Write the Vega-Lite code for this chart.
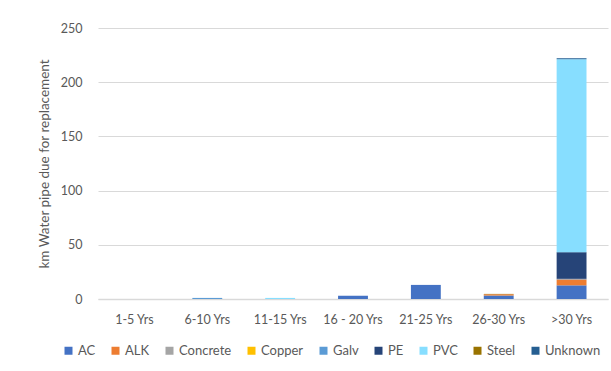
{
  "$schema": "https://vega.github.io/schema/vega-lite/v6.json",
  "autosize": {"type": "none"},
  "width": 510,
  "height": 271,
  "padding": {"left": 98, "top": 28, "right": 3, "bottom": 72},
  "background": "#ffffff",
  "config": {
    "view": {"stroke": null},
    "font": "Lato",
    "axis": {
      "labelFont": "Lato",
      "titleFont": "Lato",
      "labelColor": "#595959",
      "titleColor": "#595959",
      "labelFontSize": 12.5,
      "titleFontSize": 13.5,
      "titleFontWeight": "normal"
    },
    "legend": {
      "labelFont": "Lato",
      "labelColor": "#595959",
      "labelFontSize": 13
    }
  },
  "data": {
    "values": [
      {"age": "6-10 Yrs", "material": "Galv", "km": 1.0},
      {"age": "11-15 Yrs", "material": "PVC", "km": 1.0},
      {"age": "16 - 20 Yrs", "material": "AC", "km": 3.0},
      {"age": "21-25 Yrs", "material": "AC", "km": 13.0},
      {"age": "26-30 Yrs", "material": "AC", "km": 3.2},
      {"age": "26-30 Yrs", "material": "ALK", "km": 1.2},
      {"age": "26-30 Yrs", "material": "Steel", "km": 0.3},
      {"age": ">30 Yrs", "material": "AC", "km": 12.6},
      {"age": ">30 Yrs", "material": "ALK", "km": 5.5},
      {"age": ">30 Yrs", "material": "Galv", "km": 0.5},
      {"age": ">30 Yrs", "material": "PE", "km": 24.6},
      {"age": ">30 Yrs", "material": "PVC", "km": 178.0},
      {"age": ">30 Yrs", "material": "Unknown", "km": 0.9}
    ]
  },
  "transform": [
    {
      "lookup": "material",
      "from": {
        "data": {
          "values": [
            {"material": "AC", "rank": 1},
            {"material": "ALK", "rank": 2},
            {"material": "Concrete", "rank": 3},
            {"material": "Copper", "rank": 4},
            {"material": "Galv", "rank": 5},
            {"material": "PE", "rank": 6},
            {"material": "PVC", "rank": 7},
            {"material": "Steel", "rank": 8},
            {"material": "Unknown", "rank": 9}
          ]
        },
        "key": "material",
        "fields": ["rank"]
      }
    }
  ],
  "mark": {"type": "bar"},
  "encoding": {
    "x": {
      "field": "age",
      "type": "nominal",
      "sort": ["1-5 Yrs", "6-10 Yrs", "11-15 Yrs", "16 - 20 Yrs", "21-25 Yrs", "26-30 Yrs", ">30 Yrs"],
      "scale": {
        "domain": ["1-5 Yrs", "6-10 Yrs", "11-15 Yrs", "16 - 20 Yrs", "21-25 Yrs", "26-30 Yrs", ">30 Yrs"],
        "paddingInner": 0.59,
        "paddingOuter": 0.295
      },
      "axis": {
        "title": null,
        "labelAngle": 0,
        "ticks": false,
        "labelPadding": 14,
        "domainColor": "#d9d9d9",
        "domainWidth": 1.5
      }
    },
    "y": {
      "field": "km",
      "type": "quantitative",
      "aggregate": "sum",
      "scale": {"domain": [0, 250], "nice": false},
      "axis": {
        "title": "km Water pipe due for replacement",
        "values": [0, 50, 100, 150, 200, 250],
        "domain": false,
        "ticks": false,
        "labelPadding": 16,
        "titlePadding": 9,
        "gridColor": "#d9d9d9",
        "gridWidth": 1
      }
    },
    "color": {
      "field": "material",
      "type": "nominal",
      "scale": {
        "domain": ["AC", "ALK", "Concrete", "Copper", "Galv", "PE", "PVC", "Steel", "Unknown"],
        "range": ["#4472c4", "#ed7d31", "#a5a5a5", "#ffc000", "#5b9bd5", "#264478", "#87deff", "#997300", "#255e91"]
      },
      "legend": {
        "title": null,
        "orient": "none",
        "legendX": -36,
        "legendY": 316,
        "direction": "horizontal",
        "columns": 9,
        "symbolType": "square",
        "symbolSize": 64,
        "symbolStrokeWidth": 0,
        "labelOffset": 3,
        "columnPadding": 13
      }
    },
    "order": {"field": "rank", "type": "quantitative", "aggregate": "min"}
  }
}
